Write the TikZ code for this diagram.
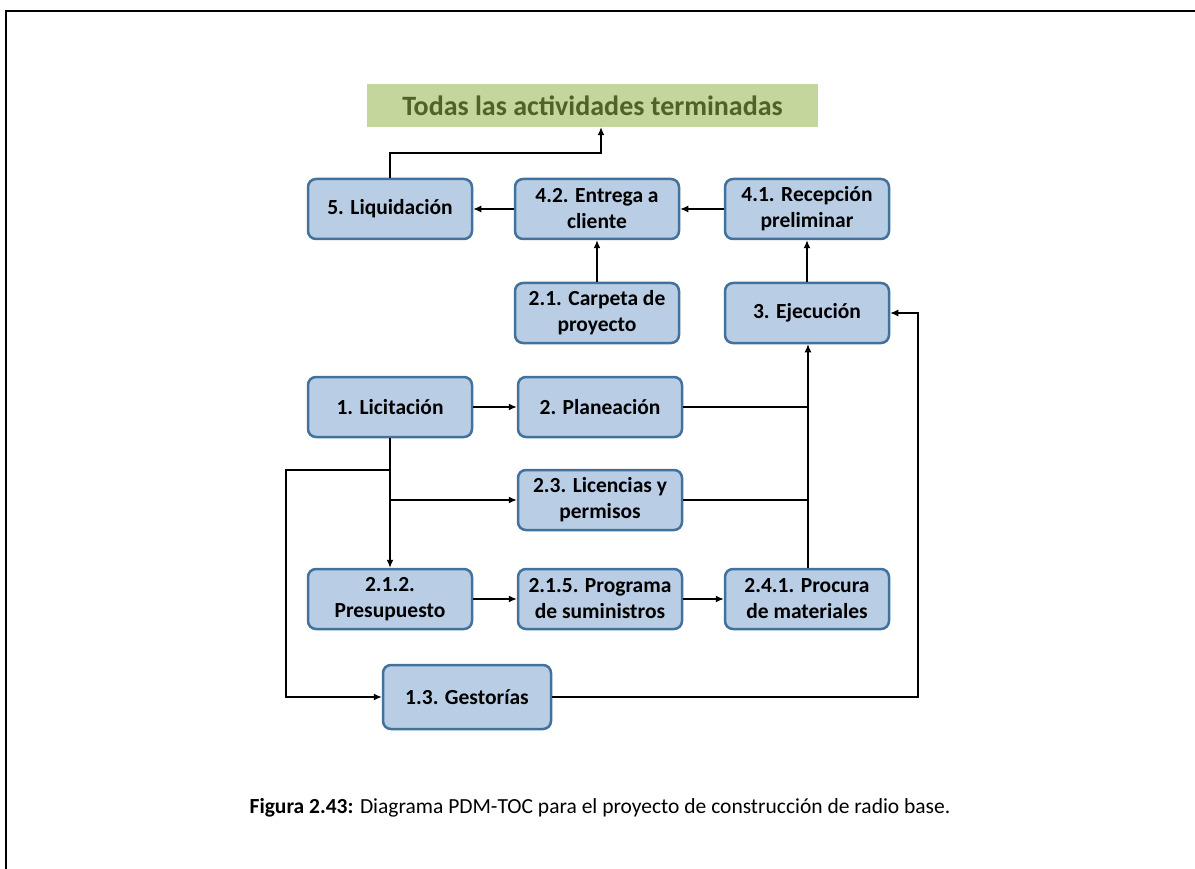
\documentclass[tikz,border=0pt]{standalone}
\usepackage{fontspec}
\setmainfont{Carlito}
\usetikzlibrary{arrows.meta}
\definecolor{boxfill}{HTML}{B9CDE5}
\definecolor{boxline}{HTML}{41719C}
\definecolor{greenfill}{HTML}{C3D69B}
\definecolor{greentext}{HTML}{4F6228}
\begin{document}
\begin{tikzpicture}[x=1pt,y=-1pt,
  task/.style={draw=boxline,fill=boxfill,line width=2.5pt,rounded corners=8pt,
    minimum width=164pt,minimum height=60pt,align=center,inner sep=0pt,
    font=\fontsize{21.5}{26}\selectfont\bfseries},
  conn/.style={line width=1.3pt},
  arr/.style={conn,-{Latex[length=8pt,width=7pt]}}]
\useasboundingbox (0,0) rectangle (1195,869);
\draw[line width=2.5pt] (6,869) -- (6,11) -- (1195,11);
\node[fill=greenfill,minimum width=451pt,minimum height=43pt,inner sep=0pt,
  font=\fontsize{28}{32}\selectfont\bfseries,text=greentext] (goal) at (592.5,105.5) {Todas las actividades terminadas};
\node[task] (liq) at (390,209) {5. Liquidación};
\node[task] (ent) at (597,209) {4.2. Entrega a\\cliente};
\node[task] (rec) at (807,209) {4.1. Recepción\\preliminar};
\node[task] (car) at (597,313) {2.1. Carpeta de\\proyecto};
\node[task] (eje) at (807,313) {3. Ejecución};
\node[task] (lic) at (390,407) {1. Licitación};
\node[task] (pla) at (600,407) {2. Planeación};
\node[task] (lyp) at (600,500) {2.3. Licencias y\\permisos};
\node[task] (pre) at (390,599) {2.1.2.\\Presupuesto};
\node[task] (pro) at (600,599) {2.1.5. Programa\\de suministros};
\node[task] (mat) at (807,599) {2.4.1. Procura\\de materiales};
\node[task,minimum width=168pt,minimum height=64pt] (ges) at (467,697) {1.3. Gestorías};
\coordinate (j1) at (390,153);
\coordinate (j2) at (601,153);
\draw[arr] (liq.north) -- (j1) -- (j2) -- (j2 |- goal.south);
\draw[arr] (ent.west) -- (liq.east);
\draw[arr] (rec.west) -- (ent.east);
\draw[arr] (car.north) -- (ent.south);
\draw[arr] (eje.north) -- (rec.south);
\draw[arr] (lic.east) -- (pla.west);
\coordinate (v) at (808,407);
\draw[conn] (pla.east) -- (v);
\draw[conn] (lyp.east) -- (808,500);
\draw[arr] (mat.north -| v) -- (v) -- (eje.south -| v);
\draw[arr] (lic.south) -- (pre.north);
\coordinate (b1) at (390,470);
\coordinate (b2) at (286,470);
\coordinate (b3) at (286,697);
\draw[arr] (b1) -- (b2) -- (b3) -- (ges.west);
\coordinate (b4) at (390,500);
\draw[arr] (b4) -- (lyp.west);
\draw[arr] (pre.east) -- (pro.west);
\draw[arr] (pro.east) -- (mat.west);
\coordinate (r1) at (918,697);
\coordinate (r2) at (918,313);
\draw[arr] (ges.east) -- (r1) -- (r2) -- (eje.east);
\node[font=\fontsize{21.5}{24}\selectfont] (cap) at (600,808) {\textbf{Figura 2.43:} Diagrama PDM-TOC para el proyecto de construcción de radio base.};
\end{tikzpicture}
\end{document}
